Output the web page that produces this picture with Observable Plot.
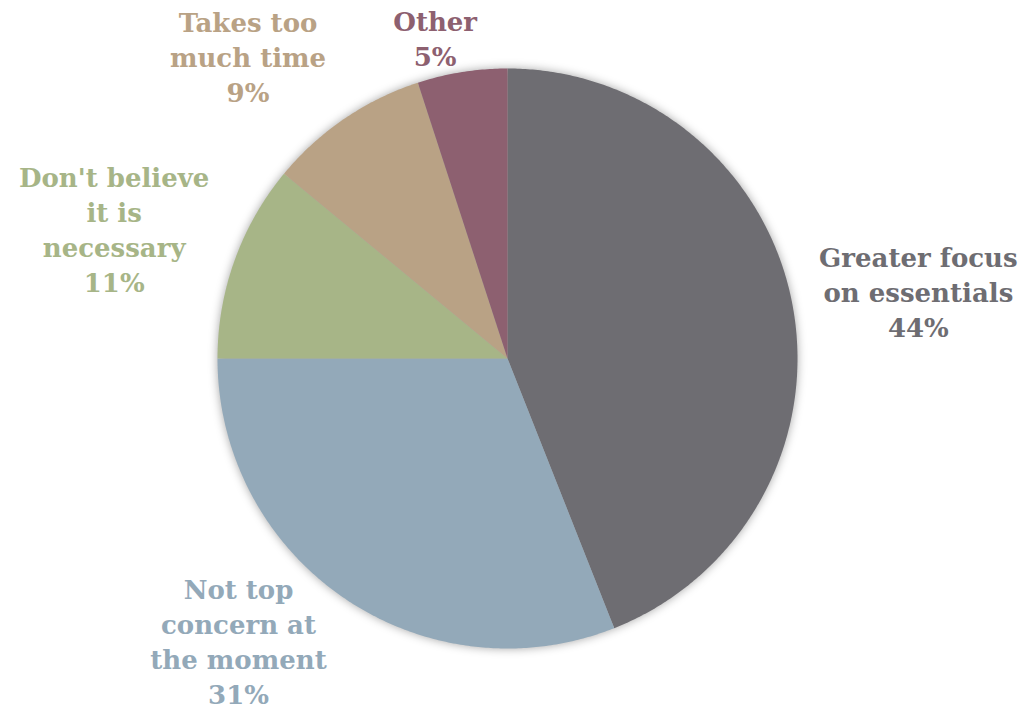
<!DOCTYPE html>
<html>
<head>
<meta charset="utf-8">
<script src="https://cdn.jsdelivr.net/npm/d3@7"></script>
<script src="https://cdn.jsdelivr.net/npm/@observablehq/plot@0.6"></script>
<style>
  html, body { margin: 0; padding: 0; background: #fff; }
  #chart svg { display: block; }
  #chart g[aria-label="line"] { filter: drop-shadow(0px 0px 5px rgba(0,0,0,0.35)); }
</style>
</head>
<body>
<div id="chart"></div>
<script>
// ---- data ----
const categories = ["Greater focus on essentials", "Not top concern at the moment", "Don't believe it is necessary", "Takes too much time", "Other"];
const labelLines = ["Greater focus\non essentials", "Not top\nconcern at\nthe moment", "Don't believe\nit is\nnecessary", "Takes too\nmuch time", "Other"];
const shares = [44, 31, 11, 9, 5];
const colors = ["#6e6d72", "#93a9b9", "#a7b587", "#b9a285", "#8d6070"];

// ---- layout (pixels) ----
const W = 1024, H = 708, CX = 507, CY = 358, R = 290;
const labelNudge = [[126, -13], [-106, 42], [-120.5, -31.5], [-96.5, -63], [-27, -35]];

const rows = categories.map((c, i) => ({name: c, value: shares[i], label: labelLines[i] + "\n" + shares[i] + "%"}));
const arcs = d3.pie().sort(null).value(d => d.value)(rows);

// polygon outline points for each slice, sampled along its arc
const poly = [];
arcs.forEach(a => {
  poly.push({name: a.data.name, x: 0, y: 0});
  const n = Math.max(2, Math.ceil((a.endAngle - a.startAngle) / (Math.PI / 360)));
  for (let k = 0; k <= n; k++) {
    const t = a.startAngle + (a.endAngle - a.startAngle) * k / n;
    poly.push({name: a.data.name, x: Math.sin(t), y: Math.cos(t)});
  }
  poly.push({name: a.data.name, x: 0, y: 0});
});

const labels = arcs.map((a, i) => {
  const m = (a.startAngle + a.endAngle) / 2;
  return {
    name: a.data.name,
    text: a.data.label,
    x: Math.sin(m) + labelNudge[i][0] / R,
    y: Math.cos(m) - labelNudge[i][1] / R
  };
});

const chart = Plot.plot({
  width: W,
  height: H,
  margin: 0,
  style: {background: "#fff"},
  x: {domain: [-CX / R, (W - CX) / R], range: [0, W], axis: null},
  y: {domain: [-(H - CY) / R, CY / R], range: [H, 0], axis: null},
  color: {domain: categories, range: colors},
  marks: [
    Plot.line(poly, {x: "x", y: "y", z: "name", fill: "name", stroke: "none", curve: "linear"}),
    Plot.text(labels, {
      x: "x", y: "y", text: "text", fill: "name",
      fontFamily: "DejaVu Serif", fontWeight: "bold", fontSize: 26,
      lineHeight: 35 / 26, lineAnchor: "middle", textAnchor: "middle"
    })
  ]
});
document.getElementById("chart").appendChild(chart);
</script>
</body>
</html>
